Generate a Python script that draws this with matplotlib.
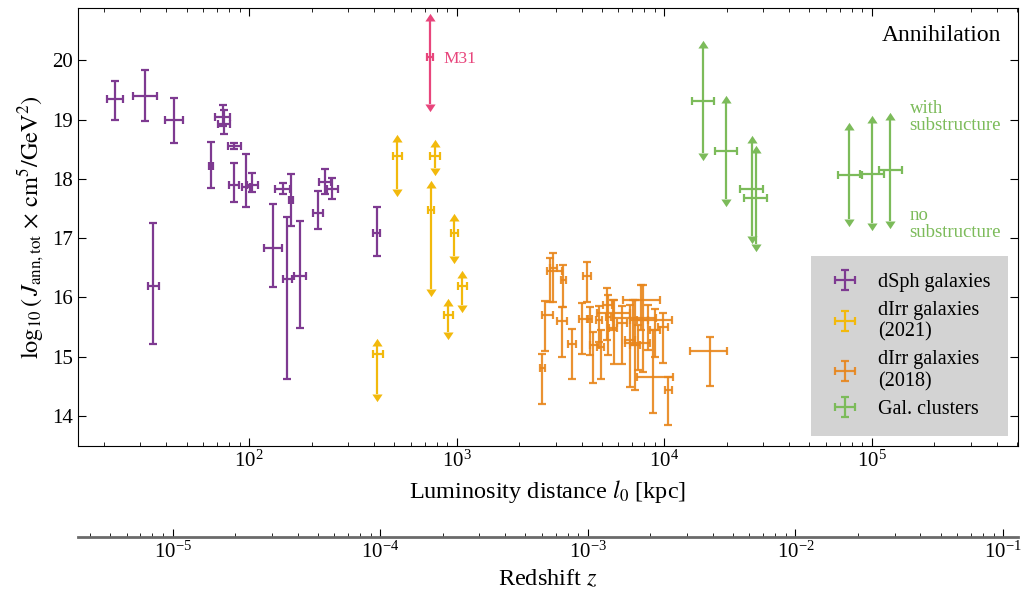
import numpy as np
import matplotlib.pyplot as plt

plt.rcParams['font.family'] = ['Liberation Serif', 'DejaVu Serif']
plt.rcParams['mathtext.fontset'] = 'stix'

# --- dSph galaxies : distance [kpc] (centre, low, high), log10 J (centre, low, high)
dsph_l = [22.6, 31.6, 43.5, 34.6, 65.4, 74.7, 75.8, 84.7, 84.7, 96.4,
          103.7, 130.9, 145.3, 158.8, 152.9, 176.0, 215.7, 232.2, 251.8, 412.0]
dsph_llo = [20.6, 27.5, 39.4, 32.7, 64.3, 68.6, 71.0, 79.0, 80.4, 92.2,
            97.5, 118.5, 133.4, 155.3, 146.3, 165.2, 204.0, 218.1, 236.6, 394.1]
dsph_lhi = [24.8, 35.9, 48.0, 36.9, 67.3, 81.0, 81.0, 91.5, 89.8, 101.1,
            110.9, 143.7, 157.5, 163.0, 160.6, 188.1, 227.9, 247.4, 269.2, 427.5]
dsph_J = [19.34, 19.40, 19.00, 16.19, 18.22, 19.04, 18.92, 18.56, 17.90, 17.86,
          17.90, 16.84, 17.83, 17.64, 16.31, 16.36, 17.43, 17.95, 17.83, 17.09]
dsph_Jlo = [18.99, 18.98, 18.60, 15.22, 17.85, 18.90, 18.75, 18.50, 17.61, 17.52,
            17.78, 16.17, 17.75, 17.20, 14.62, 15.49, 17.15, 17.74, 17.66, 16.70]
dsph_Jhi = [19.66, 19.84, 19.37, 17.26, 18.62, 19.24, 19.16, 18.61, 18.26, 18.42,
            18.10, 17.58, 17.93, 18.09, 17.36, 17.29, 17.80, 18.16, 18.02, 17.53]

# --- dIrr galaxies (2021), ranges drawn as arrows
dirr21_l = [514.5, 786, 752, 974, 1064, 911, 415]
dirr21_llo = [492, 744, 730, 936, 1018, 872, 394]
dirr21_lhi = [543, 831, 778, 1018, 1117, 963, 440]
dirr21_J = [18.39, 18.39, 17.47, 17.09, 16.19, 15.71, 15.04]
dirr21_Jlo = [17.83, 18.18, 16.14, 16.69, 15.87, 15.42, 14.37]
dirr21_Jhi = [18.63, 18.54, 17.85, 17.29, 16.33, 15.85, 15.18]

# --- M31
m31_l, m31_llo, m31_lhi = [744], [717], [771]
m31_J, m31_Jlo, m31_Jhi = [20.06], [19.26], [20.67]

# --- dIrr galaxies (2018)
dirr18_l = [2590, 2660, 2810, 2920, 3260, 3220, 3580, 4230, 4030, 4380,
            4550, 4860, 4940, 5310, 5370, 5740, 5660, 7720, 7860, 7060,
            7460, 8340, 8840, 7220, 9880, 10450, 6830, 6250, 16580, 9010]
dirr18_llo = [2530, 2570, 2710, 2810, 3180, 3030, 3420, 4070, 3880, 4290,
              4380, 4690, 4740, 5050, 5230, 5410, 4740, 6320, 7380, 5660,
              6460, 6830, 7360, 6830, 9320, 10070, 6460, 5910, 13290, 8530]
dirr18_lhi = [2660, 2920, 3200, 3040, 3360, 3410, 3750, 4420, 4230, 4480,
              4850, 4990, 5120, 5580, 5530, 5910, 6830, 9520, 8340, 9110,
              8530, 10840, 11040, 7630, 10410, 10880, 7220, 6610, 20090, 9520]
dirr18_J = [14.80, 15.70, 16.45, 16.49, 16.29, 15.60, 15.21, 16.36, 15.64, 15.63,
            15.19, 15.62, 15.17, 15.87, 15.67, 15.48, 15.73, 15.95, 15.62, 15.65,
            15.23, 15.62, 14.66, 15.19, 15.50, 14.44, 15.28, 15.57, 15.09, 15.45]
dirr18_Jlo = [14.20, 15.10, 15.92, 15.92, 15.84, 15.00, 14.62, 15.92, 15.04, 15.03,
              14.56, 15.25, 14.62, 15.28, 15.03, 14.87, 15.45, 15.45, 14.74, 15.19,
              14.77, 15.11, 14.05, 14.44, 14.90, 13.85, 14.49, 14.87, 14.50, 15.00]
dirr18_Jhi = [15.04, 15.94, 16.67, 16.75, 16.54, 15.84, 15.46, 16.60, 15.90, 15.84,
              15.42, 15.85, 15.45, 16.15, 16.04, 15.95, 15.95, 16.21, 16.21, 15.95,
              15.53, 15.87, 15.45, 15.95, 15.74, 14.66, 15.87, 15.85, 15.33, 15.80]

# --- galaxy clusters (range between no substructure and with substructure)
clus_l = [15290, 19810, 26320, 27610, 77680, 100200, 122000]
clus_llo = [13530, 17520, 23120, 24160, 68300, 87460, 108000]
clus_lhi = [17390, 22290, 29740, 31290, 89130, 114100, 139800]
clus_J = [19.31, 18.47, 17.83, 17.67, 18.07, 18.09, 18.15]
clus_Jlo = [18.44, 17.66, 17.04, 16.90, 17.32, 17.25, 17.29]
clus_Jhi = [20.21, 19.28, 18.61, 18.44, 18.83, 18.94, 19.00]

c_dsph = '#7e3a91'
c_d21 = '#f2b90c'
c_d18 = '#e8861c'
c_clus = '#7cbb5a'
c_m31 = '#e8457c'

up_head = [(-1, 0), (0, 1.5), (1, 0)]
down_head = [(-1, 0), (0, -1.5), (1, 0)]


def asym(v, lo, hi):
    v = np.asarray(v, float)
    return [v - np.asarray(lo, float), np.asarray(hi, float) - v]


fig = plt.figure(figsize=(10.26, 5.9), dpi=100)
ax = fig.add_axes([0.076, 0.244, 0.916, 0.742])

kw = dict(fmt='none', lw=1.6, capsize=3, capthick=1.6)

h1 = ax.errorbar(dsph_l, dsph_J, xerr=asym(dsph_l, dsph_llo, dsph_lhi),
                 yerr=asym(dsph_J, dsph_Jlo, dsph_Jhi), color=c_dsph,
                 label='dSph galaxies', **kw)


def arrows(l, llo, lhi, J, Jlo, Jhi, col, lab=None):
    # range bar with arrow heads instead of y caps
    h = ax.errorbar(l, J, xerr=asym(l, llo, lhi), yerr=asym(J, Jlo, Jhi),
                    color=col, label=lab, **kw)
    for cl in h.lines[1][2:]:
        cl.set_visible(False)
    ax.plot(l, Jhi, ls='none', marker=up_head, ms=11, mew=0, color=col)
    ax.plot(l, Jlo, ls='none', marker=down_head, ms=11, mew=0, color=col)
    return h


h2 = arrows(dirr21_l, dirr21_llo, dirr21_lhi, dirr21_J, dirr21_Jlo, dirr21_Jhi,
            c_d21, 'dIrr galaxies\n(2021)')
h3 = ax.errorbar(dirr18_l, dirr18_J, xerr=asym(dirr18_l, dirr18_llo, dirr18_lhi),
                 yerr=asym(dirr18_J, dirr18_Jlo, dirr18_Jhi), color=c_d18,
                 alpha=0.9, label='dIrr galaxies\n(2018)', **kw)
h4 = arrows(clus_l, clus_llo, clus_lhi, clus_J, clus_Jlo, clus_Jhi,
            c_clus, 'Gal. clusters')
arrows(m31_l, m31_llo, m31_lhi, m31_J, m31_Jlo, m31_Jhi, c_m31)

ax.text(860, 20.02, 'M31', color=c_m31, fontsize=12.5, ha='left', va='center')
ax.text(1.52e5, 19.04, 'with\nsubstructure', color=c_clus, fontsize=13.5,
        ha='left', va='center', linespacing=1.0)
ax.text(1.52e5, 17.23, 'no\nsubstructure', color=c_clus, fontsize=13.5,
        ha='left', va='center', linespacing=1.0)
ax.text(0.982, 0.938, 'Annihilation', transform=ax.transAxes, fontsize=17,
        ha='right', va='center')

ax.set_xscale('log')
ax.set_xlim(15.0, 5.04e5)
ax.set_ylim(13.49, 20.88)
ax.set_yticks([14, 15, 16, 17, 18, 19, 20])
ax.tick_params(which='both', direction='in', top=True, right=True, labelsize=15)
ax.tick_params(which='major', length=6)
ax.tick_params(which='minor', length=3)
ax.set_xlabel('Luminosity distance $l_0$ [kpc]', fontsize=17.5, labelpad=4)
ax.set_ylabel(r'$\log_{10}(\,J_{\rm ann,tot}\,\times\,{\rm cm}^5/{\rm GeV}^2)$',
              fontsize=17.5, labelpad=4)

leg = ax.legend(handles=[h1, h2, h3, h4], loc='lower right',
                bbox_to_anchor=(0.9895, 0.023), fontsize=14.5, frameon=True,
                fancybox=False, facecolor='#d3d3d3', edgecolor='none',
                framealpha=1, labelspacing=0.42, handletextpad=0.8,
                borderpad=0.85, handlelength=1.7, borderaxespad=0)

# redshift axis, z = H0 d / c with H0 = 70 km/s/Mpc
K = 70.0 / 299792.458 / 1000.0
sec = ax.secondary_xaxis(-0.208, functions=(lambda l: l * K, lambda z: z / K))
sec.spines['bottom'].set_color('#6a6a6a')
sec.spines['bottom'].set_linewidth(2)
sec.tick_params(which='both', direction='in', labelsize=15)
sec.tick_params(which='major', length=6)
sec.tick_params(which='minor', length=3)
sec.set_xlabel('Redshift $z$', fontsize=17.5, labelpad=4)

fig.savefig('out.png', dpi=100)
